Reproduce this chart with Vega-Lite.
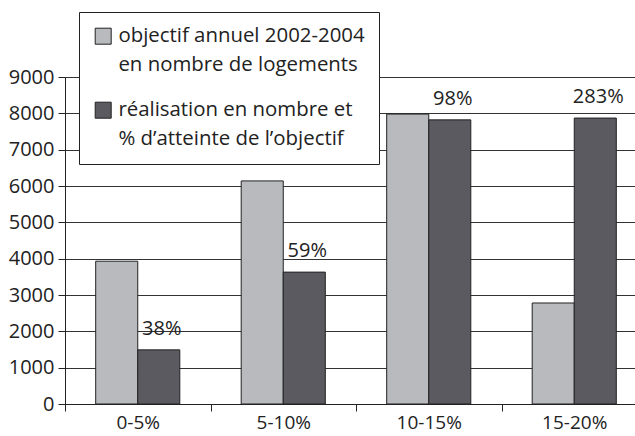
{
  "$schema": "https://vega.github.io/schema/vega-lite/v6.json",
  "width": 582,
  "height": 327,
  "autosize": "none",
  "padding": {"left": 65, "top": 77, "right": 0, "bottom": 32},
  "background": "white",
  "config": {
    "view": {"stroke": null},
    "font": "Open Sans",
    "axis": {"labelFont": "Open Sans", "labelFontSize": 20, "labelColor": "#222", "domainColor": "#222", "tickColor": "#222", "gridColor": "#333", "gridOpacity": 1, "domainWidth": 1, "tickWidth": 1, "gridWidth": 1, "labelOverlap": false}
  },
  "data": {
    "values": [
      {"cat": "0-5%", "series": "objectif", "value": 3930, "pct": null},
      {"cat": "0-5%", "series": "realisation", "value": 1490, "pct": "38%"},
      {"cat": "5-10%", "series": "objectif", "value": 6140, "pct": null},
      {"cat": "5-10%", "series": "realisation", "value": 3630, "pct": "59%"},
      {"cat": "10-15%", "series": "objectif", "value": 7980, "pct": null},
      {"cat": "10-15%", "series": "realisation", "value": 7820, "pct": "98%"},
      {"cat": "15-20%", "series": "objectif", "value": 2780, "pct": null},
      {"cat": "15-20%", "series": "realisation", "value": 7870, "pct": "283%"}
    ]
  },
  "encoding": {
    "x": {
      "field": "cat", "type": "nominal", "sort": ["0-5%", "5-10%", "10-15%", "15-20%"],
      "scale": {"paddingInner": 0, "paddingOuter": 0},
      "axis": {"title": null, "labelAngle": 0, "tickBand": "extent", "tickSize": 7, "labelPadding": 2, "labelFontSize": 19, "grid": false, "domain": true}
    },
    "xOffset": {"field": "series", "type": "nominal", "scale": {"paddingInner": 0, "paddingOuter": 0.73}},
    "y": {
      "field": "value", "type": "quantitative",
      "scale": {"domain": [0, 9000], "nice": false},
      "axis": {"title": null, "values": [0, 1000, 2000, 3000, 4000, 5000, 6000, 7000, 8000, 9000], "format": "d", "tickSize": 7, "labelPadding": 4, "grid": true, "domain": true}
    }
  },
  "layer": [
    {
      "mark": {"type": "bar", "stroke": "#222", "strokeWidth": 1, "opacity": 1},
      "encoding": {
        "color": {
          "field": "series", "type": "nominal",
          "scale": {"domain": ["objectif", "realisation"], "range": ["#b9babd", "#5a5a60"]},
          "legend": {
            "title": null,
            "orient": "none",
            "legendX": 14,
            "legendY": -65,
            "direction": "vertical",
            "fillColor": "white",
            "strokeColor": "#222",
            "padding": 14,
            "symbolType": "square",
            "symbolSize": 256,
            "symbolStrokeColor": "#222",
            "symbolStrokeWidth": 1,
            "symbolOpacity": 1,
            "labelFont": "Open Sans",
            "labelFontSize": 20.4,
            "labelColor": "#222",
            "labelLimit": 400,
            "labelOffset": 5,
            "rowPadding": 24,
            "labelExpr": "datum.value == 'objectif' ? ['objectif annuel 2002-2004', 'en nombre de logements'] : ['réalisation en nombre et', '% d’atteinte de l’objectif']",
            "encode": {"labels": {"update": {"lineHeight": {"value": 29}}}}
          }
        }
      }
    },
    {
      "transform": [{"filter": "datum.pct != null"}],
      "mark": {"type": "text", "font": "Open Sans", "fontSize": 20, "color": "#222", "baseline": "alphabetic", "dy": -15, "dx": 3},
      "encoding": {
        "text": {"field": "pct"}
      }
    }
  ]
}
